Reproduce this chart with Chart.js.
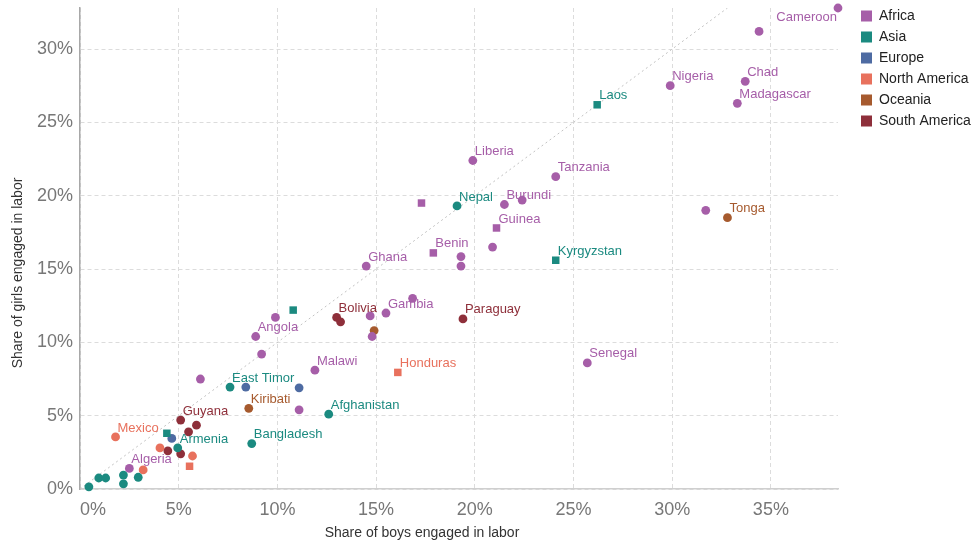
<!DOCTYPE html>
<html>
<head>
<meta charset="utf-8">
<script src="https://cdn.jsdelivr.net/npm/chart.js@4"></script>
<style>
  html, body { margin: 0; padding: 0; background: #fff; }
  #wrap { width: 975px; height: 544px; }
</style>
</head>
<body>
<div id="wrap"><canvas id="laborChart"></canvas></div>
<script>
// Share of children engaged in labor (%), boys on x, girls on y
const africaNames = ['Cameroon', '', 'Chad', 'Madagascar', 'Nigeria', '', 'Tanzania', 'Liberia', 'Burundi', '',
    '', 'Guinea', '', 'Benin', '', '', 'Ghana', 'Gambia', '', '', '', 'Senegal', 'Malawi', 'Angola', '', '', '', '', 'Algeria'];
const africaBoys = [38.4, 34.4, 33.7, 33.3, 29.9, 31.7, 24.1, 19.9, 21.5, 22.4,
    17.3, 21.1, 20.9, 17.9, 19.3, 19.3, 14.5, 15.5, 16.85, 14.7, 14.8, 25.7, 11.9, 8.9, 9.9, 9.2, 6.1, 11.1, 2.5];
const africaGirls = [32.8, 31.2, 27.8, 26.3, 27.5, 19.0, 21.3, 22.4, 19.4, 19.7,
    19.5, 17.8, 16.5, 16.1, 15.85, 15.2, 15.2, 12.0, 13.0, 11.8, 10.4, 8.6, 8.1, 10.4, 11.7, 9.2, 7.5, 5.4, 1.4];

const asiaNames = ['Laos', 'Nepal', 'Kyrgyzstan', '', 'East Timor', 'Afghanistan', 'Bangladesh', 'Armenia', '', '', '', '', '', '', ''];
const asiaBoys = [26.2, 19.1, 24.1, 10.8, 7.6, 12.6, 8.7, 4.95, 4.4, 0.45, 0.95, 1.3, 2.2, 2.2, 2.95];
const asiaGirls = [26.2, 19.3, 15.6, 12.2, 6.95, 5.1, 3.1, 2.8, 3.8, 0.15, 0.75, 0.75, 0.95, 0.35, 0.8];

const europeNames = ['', '', ''];
const europeBoys = [8.4, 11.1, 4.65];
const europeGirls = [6.95, 6.9, 3.45];

const northAmericaNames = ['Mexico', 'Honduras', '', '', '', ''];
const northAmericaBoys = [1.8, 16.1, 4.05, 5.7, 5.55, 3.2];
const northAmericaGirls = [3.55, 7.95, 2.8, 2.25, 1.55, 1.3];

const oceaniaNames = ['Tonga', 'Kiribati', ''];
const oceaniaBoys = [32.8, 8.55, 14.9];
const oceaniaGirls = [18.5, 5.5, 10.8];

const southAmericaNames = ['Bolivia', '', 'Paraguay', 'Guyana', '', '', '', ''];
const southAmericaBoys = [13.0, 13.2, 19.4, 5.1, 5.9, 5.5, 4.45, 5.1];
const southAmericaGirls = [11.7, 11.4, 11.6, 4.7, 4.35, 3.9, 2.6, 2.4];

// points drawn as squares instead of circles (index within each continent)
const squareMarkers = {
    'Africa': [10, 11, 13],
    'Asia': [0, 2, 3, 8],
    'North America': [1, 4]
};

const xTicks = [0, 5, 10, 15, 20, 25, 30, 35];
const yTicks = [0, 5, 10, 15, 20, 25, 30];
const xMax = 38.4;
const yMax = 32.8;

const FONT = '"Liberation Sans", Arial, Helvetica, sans-serif';
Chart.defaults.font.family = FONT;

const continents = [
    { label: 'Africa', color: '#a65ea8', boys: africaBoys, girls: africaGirls, names: africaNames },
    { label: 'Asia', color: '#1b8a80', boys: asiaBoys, girls: asiaGirls, names: asiaNames },
    { label: 'Europe', color: '#4e6ba2', boys: europeBoys, girls: europeGirls, names: europeNames },
    { label: 'North America', color: '#e8715d', boys: northAmericaBoys, girls: northAmericaGirls, names: northAmericaNames },
    { label: 'Oceania', color: '#a65a2e', boys: oceaniaBoys, girls: oceaniaGirls, names: oceaniaNames },
    { label: 'South America', color: '#8e2f3a', boys: southAmericaBoys, girls: southAmericaGirls, names: southAmericaNames }
];

const datasets = continents.map(c => {
    const squares = squareMarkers[c.label] || [];
    return {
        label: c.label,
        names: c.names,
        data: c.boys.map((b, i) => ({ x: b, y: c.girls[i] })),
        backgroundColor: c.color,
        borderColor: c.color,
        borderWidth: 0,
        pointStyle: ctx => squares.includes(ctx.dataIndex) ? 'rect' : 'circle',
        pointRadius: ctx => squares.includes(ctx.dataIndex) ? 5.3 : 4.4,
        clip: false,
        order: 1
    };
});

// y = x reference line
datasets.push({
    type: 'line',
    label: 'y = x',
    data: [{ x: 0, y: 0 }, { x: yMax, y: yMax }],
    borderColor: '#c2c2c2',
    borderWidth: 1,
    borderDash: [2, 3],
    pointRadius: 0,
    fill: false,
    order: 5
});

// country names next to their points
const pointLabels = {
    id: 'pointLabels',
    afterDatasetsDraw(chart) {
        const ctx = chart.ctx;
        const area = chart.chartArea;
        ctx.save();
        ctx.font = '13px ' + FONT;
        ctx.textBaseline = 'middle';
        chart.data.datasets.forEach((ds, i) => {
            if (!ds.names) return;
            chart.getDatasetMeta(i).data.forEach((pt, j) => {
                const name = ds.names[j];
                if (!name) return;
                const w = ctx.measureText(name).width;
                ctx.fillStyle = ds.backgroundColor;
                if (pt.x + 2 + w > area.right) {
                    ctx.textAlign = 'right';
                    ctx.fillText(name, pt.x - 1, pt.y + 9);
                } else {
                    ctx.textAlign = 'left';
                    ctx.fillText(name, pt.x + 2, pt.y - 9);
                }
            });
        });
        ctx.restore();
    }
};

// axis titles (offset from plot centre like the original)
const axisTitles = {
    id: 'axisTitles',
    afterDraw(chart) {
        const ctx = chart.ctx;
        ctx.save();
        ctx.font = '14px ' + FONT;
        ctx.fillStyle = '#333';
        ctx.textAlign = 'center';
        ctx.textBaseline = 'middle';
        ctx.fillText('Share of boys engaged in labor', 422, 533);
        ctx.translate(18, 273);
        ctx.rotate(-Math.PI / 2);
        ctx.fillText('Share of girls engaged in labor', 0, 0);
        ctx.restore();
    }
};

// push the legend a little away from the plot area
const legendShift = {
    id: 'legendShift',
    afterLayout(chart) {
        const lg = chart.legend;
        lg.left += 16;
        lg.right += 16;
        lg.top += 2;
        lg.bottom += 2;
    }
};

const ctxLabor = document.getElementById('laborChart').getContext('2d');
const laborChart = new Chart(ctxLabor, {
    type: 'scatter',
    data: { datasets: datasets },
    plugins: [pointLabels, axisTitles, legendShift],
    options: {
        responsive: true,
        maintainAspectRatio: false,
        animation: false,
        events: [],
        layout: { padding: 0 },
        plugins: {
            tooltip: { enabled: false },
            legend: {
                position: 'right',
                align: 'start',
                labels: {
                    boxWidth: 11,
                    boxHeight: 11,
                    padding: 7,
                    color: '#222',
                    font: { size: 14 },
                    filter: item => item.text !== 'y = x'
                }
            }
        },
        scales: {
            x: {
                type: 'linear',
                min: 0,
                max: xMax,
                afterBuildTicks: s => { s.ticks = xTicks.concat([xMax]).map(v => ({ value: v })); },
                afterFit: s => { s.height = 55; s.paddingRight = 137; },
                grid: {
                    color: c => (c.tick && c.tick.value === xMax) ? 'rgba(0,0,0,0)' : '#dcdcdc',
                    drawTicks: false
                },
                border: { color: '#cfcfcf', width: 1.5, dash: [4, 3] },
                ticks: {
                    align: 'inner',
                    autoSkip: false,
                    maxRotation: 0,
                    padding: 10,
                    color: '#777',
                    font: { size: 18 },
                    callback: v => xTicks.includes(v) ? v + '%' : ''
                }
            },
            y: {
                min: 0,
                max: yMax,
                afterBuildTicks: s => { s.ticks = yTicks.map(v => ({ value: v })); },
                afterFit: s => { s.width = 80; s.paddingTop = 8; },
                grid: { color: '#dcdcdc', drawTicks: false },
                border: { color: '#a8a8a8', width: 1.5, dash: [4, 3] },
                ticks: {
                    padding: 7,
                    color: '#777',
                    font: { size: 18 },
                    callback: v => v + '%'
                }
            }
        }
    }
});
</script>
</body>
</html>
